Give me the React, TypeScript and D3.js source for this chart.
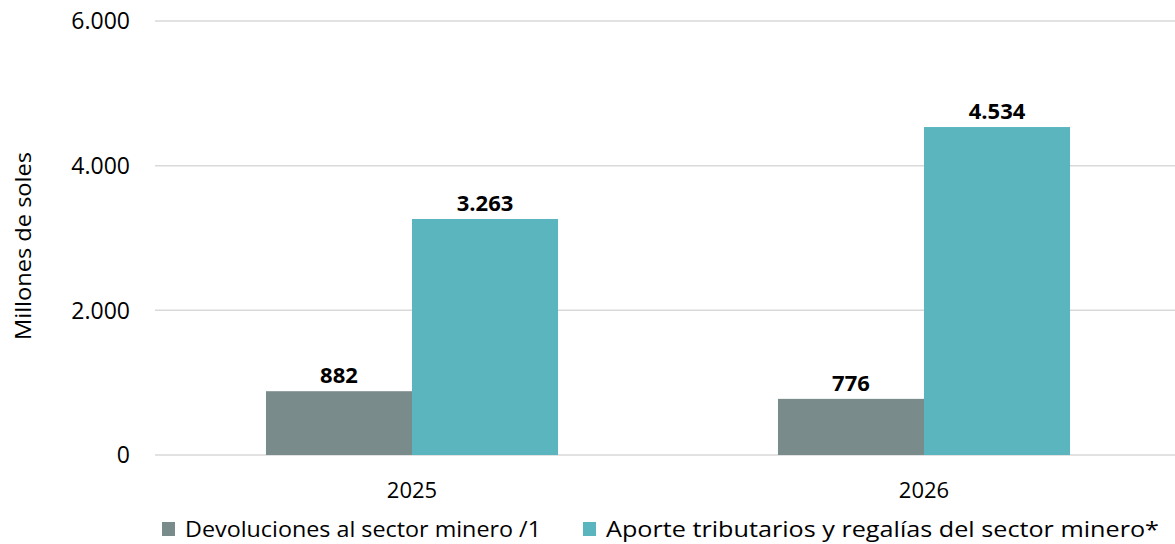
import React from "react";
import * as d3 from "d3";

const categories = ["2025", "2026"];
const seriesNames = ["Devoluciones al sector minero /1", "Aporte tributarios y regalías del sector minero*"];
const devoluciones = [882, 776];
const aporte = [3263, 4534];
const yTicks = [0, 2000, 4000, 6000];
const colors = ["#7a8b8c", "#5ab5bf"];

const W = 1175;
const H = 544;
const FONT = "'Open Sans', sans-serif";
const fmt = (v: number) => d3.format(",")(v).replace(/,/g, ".");

export default function App() {
  const y = d3.scaleLinear().domain([0, 6000]).range([455, 21]);
  const x0 = d3.scaleBand().domain(categories).range([156, 1180]).padding(0);
  const x1 = d3.scaleBand().domain(seriesNames).range([0, x0.bandwidth()]).paddingInner(0).paddingOuter(0.753);
  const values = [devoluciones, aporte];
  const legendX = [162, 583];
  const legendLen = [356, 553];
  return (
    <svg width={W} height={H} style={{ position: "absolute", left: 0, top: 0, background: "#fff" }} fontFamily={FONT}>
      {yTicks.map((t) => (
        <g key={t}>
          <line x1={155} x2={1175} y1={y(t)} y2={y(t)} stroke="#d9d9d9" strokeWidth={1.5} />
          <text x={130} y={y(t)} dy="0.36em" textAnchor="end" fontSize={23} fill="#000">{fmt(t)}</text>
        </g>
      ))}
      <text transform={`translate(31,${246}) rotate(-90)`} textAnchor="middle" fontSize={22} textLength={188} lengthAdjust="spacingAndGlyphs" fill="#000">Millones de soles</text>
      {categories.map((c, i) => (
        <g key={c}>
          {seriesNames.map((s, j) => {
            const v = values[j][i];
            const bx = (x0(c) ?? 0) + (x1(s) ?? 0);
            return (
              <g key={s}>
                <rect x={bx} y={y(v)} width={x1.bandwidth()} height={y(0) - y(v)} fill={colors[j]} />
                <text x={bx + x1.bandwidth() / 2} y={y(v) - 8} textAnchor="middle" fontSize={22} fontWeight="bold" fill="#000">{fmt(v)}</text>
              </g>
            );
          })}
          <text x={(x0(c) ?? 0) + x0.bandwidth() / 2} y={498} textAnchor="middle" fontSize={22} fill="#000">{c}</text>
        </g>
      ))}
      {seriesNames.map((s, j) => (
        <g key={s}>
          <rect x={legendX[j]} y={522} width={13} height={14} fill={colors[j]} />
          <text x={legendX[j] + 23} y={537} fontSize={22} textLength={legendLen[j]} lengthAdjust="spacingAndGlyphs" fill="#000">{s}</text>
        </g>
      ))}
    </svg>
  );
}
